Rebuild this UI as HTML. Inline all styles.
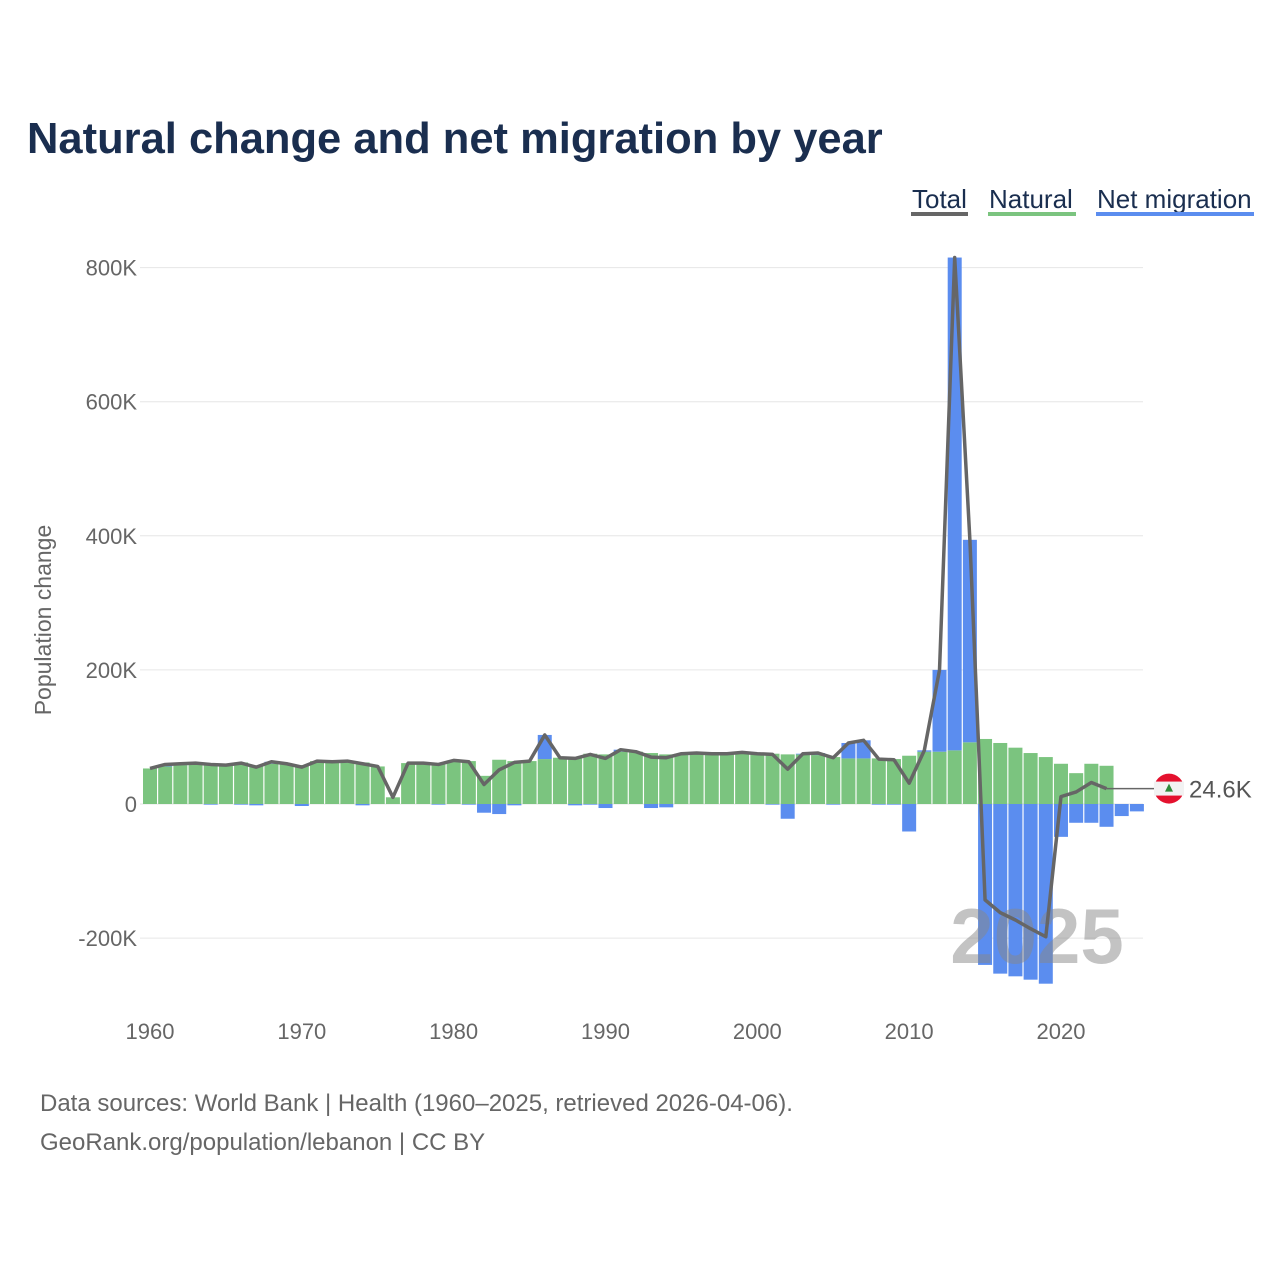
<!DOCTYPE html>
<html><head><meta charset="utf-8">
<style>
html,body{margin:0;padding:0;background:#fff;}
body{width:1280px;height:1280px;overflow:hidden;font-family:"Liberation Sans",sans-serif;}
</style></head>
<body>
<svg id="chart" width="1280" height="1280" xmlns="http://www.w3.org/2000/svg" font-family="Liberation Sans, sans-serif">
<text x="27" y="153" font-size="43.5" font-weight="bold" fill="#1a2e4f">Natural change and net migration by year</text>
<g>
 <g><text x="912" y="208" font-size="26" fill="#1a2e4f">Total</text><rect x="911" y="212" width="57" height="4" fill="#666"/></g>
 <g><text x="989" y="208" font-size="26" fill="#1a2e4f">Natural</text><rect x="988" y="212" width="88" height="4" fill="#7bc47f"/></g>
 <g><text x="1097" y="208" font-size="26" fill="#1a2e4f">Net migration</text><rect x="1096" y="212" width="158" height="4" fill="#5b8def"/></g>
</g>
<text transform="translate(51,620) rotate(-90)" text-anchor="middle" font-size="23" fill="#666">Population change</text>
<g id="grid"></g>
<g id="bars"></g>
<text x="1037" y="963" text-anchor="middle" font-size="78" font-weight="bold" fill="#888" fill-opacity="0.5">2025</text>
<g id="lines"></g>
<g id="xaxis"></g>
<text x="40" y="1111" font-size="24" fill="#666">Data sources: World Bank | Health (1960–2025, retrieved 2026-04-06).</text>
<text x="40" y="1150" font-size="24" fill="#666">GeoRank.org/population/lebanon | CC BY</text>
</svg>
<script>
const years=[];for(let y=1960;y<=2025;y++)years.push(y);
const natural=[53,56,58,60,60,58,62,57,60,60,58,64,63,64,62,56,10,61,61,60,65,64,42,66,64,64,67,69,70,75,74,78,78,76,74,75,76,75,75,77,75,75,74,74,73,70,68,68,68,67,72,78,78,80,92,97,91,84,76,70,60,46,60,57,0,0];
const migration=[0,3,2,1,-1,0,-1,-2,3,0,-3,0,0,0,-2,0,0,0,0,-1,0,-1,-13,-15,-2,0,36,0,-2,-1,-6,3,0,-6,-5,0,0,0,0,0,0,-1,-22,1,3,-1,23,27,-1,-1,-41,2,122,735,302,-240,-253,-257,-262,-268,-49,-28,-28,-34,-18,-11];
const yTicks=[-200,0,200,400,600,800];
const yTickLabels=["-200K","0","200K","400K","600K","800K"];
const xTicks=[1960,1970,1980,1990,2000,2010,2020];
const lastLineYear=2023;
const NS="http://www.w3.org/2000/svg";
const X=y=>150+(y-1960)*15.183;
const Y=v=>804-v*0.6705;
function mk(tag,attrs,parent){const e=document.createElementNS(NS,tag);for(const k in attrs)e.setAttribute(k,attrs[k]);parent.appendChild(e);return e;}
const grid=document.getElementById('grid');
yTicks.forEach((t,i)=>{
 const l=mk('line',{x1:140,x2:1143,y1:Y(t),y2:Y(t),stroke:'#e6e6e6','stroke-width':1},grid);
 
 
 const tx=mk('text',{x:137,y:Y(t)+8,'text-anchor':'end','font-size':22,fill:'#666'},grid);
 tx.textContent=yTickLabels[i];
 
 
});
const bars=document.getElementById('bars');
const bw=14;
years.forEach((yr,i)=>{
 const cx=X(yr),n=natural[i],m=migration[i];
 if(n>0){const r=mk('rect',{x:cx-bw/2,y:Y(n),width:bw,height:Y(0)-Y(n),fill:'#7bc47f'},bars);
  
  }
 if(m!==0){const base=m>0?Math.max(n,0):0;const top=base+m;
  const y1=Math.min(Y(base),Y(top)),h=Math.abs(Y(base)-Y(top));
  const r=mk('rect',{x:cx-bw/2,y:y1,width:bw,height:h,fill:'#5b8def'},bars);
  
  }
});
const lines=document.getElementById('lines');
let pts=[];
years.forEach((yr,i)=>{if(yr<=lastLineYear)pts.push(X(yr)+','+Y(natural[i]+migration[i]));});
const pl=mk('polyline',{points:pts.join(' '),fill:'none',stroke:'#666','stroke-width':3.5,'stroke-linejoin':'round'},lines);


const li=years.indexOf(lastLineYear);const lv=natural[li]+migration[li];
const ly=Y(lv);
const cn=mk('line',{x1:X(lastLineYear),x2:1155,y1:ly,y2:ly,stroke:'#666','stroke-width':1.5},lines);


const flag=mk('g',{},lines);


mk('circle',{cx:1169,cy:ly,r:15,fill:'#e4112e'},flag);
mk('rect',{x:1154,y:ly-7,width:30,height:14,fill:'#f2f2f2'},flag);
mk('polygon',{points:`1169,${ly-5} 1165,${ly+3} 1173,${ly+3}`,fill:'#2f8a3a'},flag);
const lbl=mk('text',{x:1189,y:ly+9,'font-size':24,fill:'#555'},lines);
lbl.textContent='24.6K';


const xa=document.getElementById('xaxis');
xTicks.forEach(t=>{const tx=mk('text',{x:X(t),y:1039,'text-anchor':'middle','font-size':22,fill:'#666'},xa);
 tx.textContent=t;
 
 });
</script>
</body></html>
